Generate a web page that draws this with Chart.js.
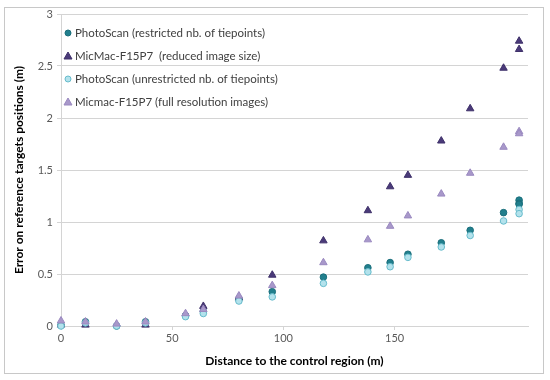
<!DOCTYPE html>
<html>
<head>
<meta charset="utf-8">
<script src="https://cdn.jsdelivr.net/npm/chart.js@4/dist/chart.umd.min.js"></script>
<style>
    html, body { margin: 0; padding: 0; background: #fff; }
    #wrap { width: 550px; height: 380px; position: relative; }
</style>
</head>
<body>
<div id="wrap"><canvas id="chart"></canvas></div>
<script>
// --- Data ----------------------------------------------------------------

const seriesNames = [
    'PhotoScan (restricted nb. of tiepoints)',
    'MicMac-F15P7  (reduced image size)',
    'PhotoScan (unrestricted nb. of tiepoints)',
    'Micmac-F15P7 (full resolution images)',
];

// PhotoScan, restricted
const psRestrictedDist = [0, 11, 25, 38, 56, 64, 80, 95, 118, 138, 148, 156, 171, 184, 199, 206, 206, 206];
const psRestrictedErr = [0.01, 0.04, 0.0, 0.04, 0.10, 0.14, 0.26, 0.33, 0.47, 0.56, 0.61, 0.69, 0.80, 0.92, 1.09, 1.21, 1.18, 1.17];

// MicMac, reduced image size
const mmReducedDist = [0, 11, 38, 64, 80, 95, 118, 138, 148, 156, 171, 184, 199, 206, 206];
const mmReducedErr = [0.01, 0.01, 0.01, 0.19, 0.27, 0.49, 0.82, 1.11, 1.34, 1.45, 1.78, 2.09, 2.48, 2.74, 2.66];

// PhotoScan, unrestricted
const psUnrestrictedDist = [0, 11, 25, 38, 56, 64, 80, 95, 118, 138, 148, 156, 171, 184, 199, 206, 206];
const psUnrestrictedErr = [0.0, 0.03, 0.0, 0.03, 0.09, 0.12, 0.24, 0.28, 0.41, 0.52, 0.57, 0.66, 0.76, 0.87, 1.01, 1.12, 1.08];

// MicMac, full resolution
const mmFullDist = [0, 11, 25, 38, 56, 64, 80, 95, 118, 138, 148, 156, 171, 184, 199, 206, 206];
const mmFullErr = [0.05, 0.04, 0.02, 0.04, 0.12, 0.16, 0.29, 0.39, 0.61, 0.83, 0.96, 1.06, 1.27, 1.47, 1.72, 1.87, 1.85];

const xTitle = 'Distance to the control region (m)';
const yTitle = 'Error on reference targets positions (m)';

// --- Helpers -------------------------------------------------------------

function toPoints(xs, ys) {
    return xs.map((x, i) => ({ x, y: ys[i] }));
}

const FONT = 'Lato, "Open Sans", sans-serif';
const GRID = '#d4d4d4';
const TICK = '#595959';

const STYLES = [
    { fill: '#217f8d', border: '#1b6f7c', shape: 'circle', radius: 3.3 },
    { fill: '#4a3a79', border: '#3f316a', shape: 'triangle', radius: 4.3 },
    { fill: '#b3e2ec', border: '#67bccc', shape: 'circle', radius: 3.3 },
    { fill: '#a898ca', border: '#9a89c0', shape: 'triangle', radius: 4.3 },
];

const seriesData = [
    toPoints(psRestrictedDist, psRestrictedErr),
    toPoints(mmReducedDist, mmReducedErr),
    toPoints(psUnrestrictedDist, psUnrestrictedErr),
    toPoints(mmFullDist, mmFullErr),
];

// Frame around the whole figure
const framePlugin = {
    id: 'frame',
    beforeDraw(chart) {
        const { ctx, width, height } = chart;
        ctx.save();
        ctx.fillStyle = '#fff';
        ctx.fillRect(0, 0, width, height);
        ctx.strokeStyle = '#c8c8c8';
        ctx.lineWidth = 1;
        ctx.strokeRect(4.5, 7.5, 539, 366);
        ctx.restore();
    },
};

// Legend drawn inside the plot area, top-left
const legendPlugin = {
    id: 'innerLegend',
    afterDraw(chart) {
        const { ctx } = chart;
        const x0 = 68;
        const y0 = 33;
        const step = 23;
        ctx.save();
        ctx.font = '11.5px ' + FONT;
        ctx.textBaseline = 'middle';
        seriesNames.forEach((name, i) => {
            const s = STYLES[i];
            const y = y0 + i * step;
            ctx.fillStyle = s.fill;
            ctx.strokeStyle = s.border;
            ctx.lineWidth = 1;
            ctx.beginPath();
            if (s.shape === 'circle') {
                ctx.arc(x0, y, 3, 0, Math.PI * 2);
            } else {
                ctx.moveTo(x0, y - 4);
                ctx.lineTo(x0 + 4, y + 3);
                ctx.lineTo(x0 - 4, y + 3);
                ctx.closePath();
            }
            ctx.fill();
            ctx.stroke();
            ctx.fillStyle = '#404040';
            ctx.fillText(name, x0 + 7, y);
        });
        ctx.restore();
    },
};

// --- Chart ---------------------------------------------------------------

const datasets = seriesData.map((data, i) => ({
    label: seriesNames[i],
    data,
    backgroundColor: STYLES[i].fill,
    borderColor: STYLES[i].border,
    borderWidth: 1,
    pointStyle: STYLES[i].shape,
    pointRadius: STYLES[i].radius,
    pointHoverRadius: STYLES[i].radius,
    order: 3 - i, // later series on top, like the original
    clip: false,
}));

new Chart(document.getElementById('chart'), {
    type: 'scatter',
    data: { datasets },
    options: {
        responsive: true,
        maintainAspectRatio: false,
        animation: false,
        layout: { padding: { left: 8, right: 22, top: 14, bottom: 8 } },
        plugins: {
            legend: { display: false },
            tooltip: { enabled: false },
        },
        scales: {
            x: {
                type: 'linear',
                min: 0,
                max: 210,
                afterBuildTicks: (scale) => {
                    scale.ticks = scale.ticks.filter((t) => t.value % 50 === 0);
                },
                afterFit: (scale) => { scale.height = 46; },
                ticks: {
                    stepSize: 50,
                    color: TICK,
                    font: { family: FONT, size: 11 },
                    padding: 2,
                },
                grid: {
                    drawOnChartArea: false,
                    drawTicks: true,
                    tickLength: 4,
                    color: GRID,
                },
                border: { color: GRID },
                title: {
                    display: true,
                    text: xTitle,
                    color: '#000',
                    font: { family: FONT, size: 12, weight: 'bold' },
                    padding: { top: 2 },
                },
            },
            y: {
                min: 0,
                max: 3,
                afterFit: (scale) => { scale.width = 53; },
                ticks: {
                    stepSize: 0.5,
                    color: TICK,
                    font: { family: FONT, size: 11 },
                    padding: 4,
                    callback: (v) => String(v),
                },
                grid: {
                    color: GRID,
                    tickLength: 4,
                },
                border: { color: GRID },
                title: {
                    display: true,
                    text: yTitle,
                    color: '#000',
                    font: { family: FONT, size: 12, weight: 'bold' },
                    padding: { bottom: 6 },
                },
            },
        },
    },
    plugins: [framePlugin, legendPlugin],
});
</script>
</body>
</html>
